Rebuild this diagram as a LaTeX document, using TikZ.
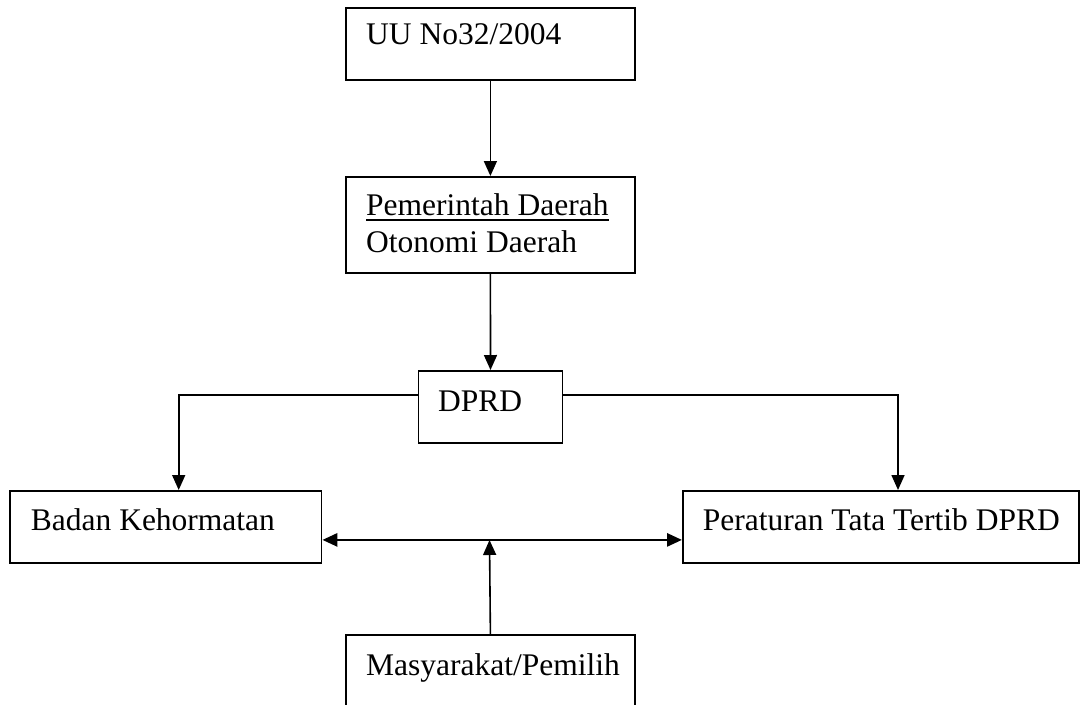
\documentclass[tikz,border=0pt]{standalone}
\usepackage{fontspec}
\setmainfont{Liberation Serif}
\usetikzlibrary{arrows.meta}
\begin{document}
\begin{tikzpicture}[x=1pt,y=-1pt,
  box/.style={draw, line width=1.8pt, inner sep=0pt, anchor=north west},
  lbl/.style={anchor=base west, inner sep=0pt, font=\fontsize{31.5}{36}\selectfont},
  arr/.style={line width=1.6pt, -{Triangle[length=15pt,width=13pt]}},
  darr/.style={line width=2.8pt, {Triangle[length=15pt,width=13pt]}-{Triangle[length=15pt,width=13pt]}}]
\useasboundingbox (0,0) rectangle (1086,704);
\clip (0,0) rectangle (1086,704);
% boxes
\node[box, minimum width=289pt, minimum height=72pt] (uu) at (345,7) {};
\node[box, minimum width=289pt, minimum height=96pt] (pd) at (345,176) {};
\node[box, minimum width=144pt, minimum height=72pt] (dprd) at (417.6,370) {};
\node[box, minimum width=311.6pt, minimum height=72pt] (bk) at (9,490) {};
\node[box, minimum width=396pt, minimum height=72pt] (pt) at (682,490) {};
\node[box, minimum width=289pt, minimum height=90pt] (ms) at (345,634) {};
% labels
\node[lbl] (uut) at (366,44) {UU No32/2004};
\node[lbl] (pdt1) at (366,215) {Pemerintah Daerah};
\draw[line width=1.8pt] ([yshift=-5pt]pdt1.base west) -- ([yshift=-5pt]pdt1.base east);
\node[lbl] (pdt2) at (366,252) {Otonomi Daerah};
\node[lbl] (dprdt) at (438,411) {DPRD};
\node[lbl] (bkt) at (30.7,530.7) {Badan Kehormatan};
\node[lbl] (ptt) at (702.7,530.7) {Peraturan Tata Tertib DPRD};
\node[lbl] (mst) at (366,675) {Masyarakat/Pemilih};
% helper coordinates
\coordinate (bkin) at (178.7,490);
\coordinate (ptin) at (898,490);
\coordinate (mid) at (489.5,540);
% connectors
\draw[arr] (uu.south) -- (pd.north);
\draw[arr] (pd.south) -- (dprd.north);
\draw[arr] ([yshift=12pt]dprd.west) -| (bkin);
\draw[arr] ([yshift=12pt]dprd.east) -| (ptin);
\draw[darr] ([yshift=-13pt]bk.east) -- ([yshift=-13pt]pt.west);
\draw[arr] (ms.north) -- (mid);
\end{tikzpicture}
\end{document}
